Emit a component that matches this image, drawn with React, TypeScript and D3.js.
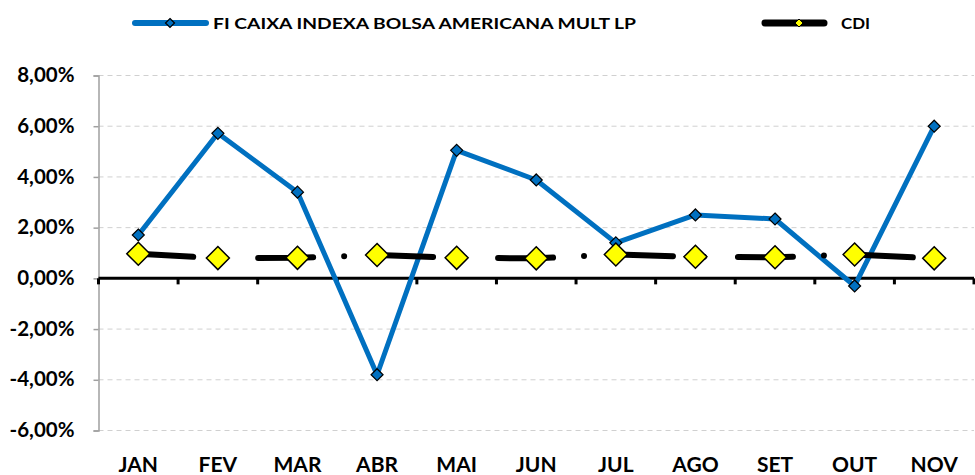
import * as d3 from 'd3'
import React, { useRef, useEffect } from 'react'

// Data
const months = ['JAN', 'FEV', 'MAR', 'ABR', 'MAI', 'JUN', 'JUL', 'AGO', 'SET', 'OUT', 'NOV']
const fundValues = [1.71, 5.72, 3.4, -3.8, 5.05, 3.88, 1.4, 2.5, 2.34, -0.3, 6.0]
const cdiValues = [0.97, 0.8, 0.81, 0.92, 0.81, 0.79, 0.94, 0.85, 0.83, 0.94, 0.79]
const yTicks = [-6, -4, -2, 0, 2, 4, 6, 8]
const fundName = 'FI CAIXA INDEXA BOLSA AMERICANA MULT LP'
const cdiName = 'CDI'

const W = 975
const H = 475
const FONT = 'Lato, Calibri, sans-serif'
const BLUE = '#0070C0'

const App = () => {
  const ref = useRef<SVGSVGElement | null>(null)

  useEffect(() => {
    document.body.style.margin = '0'
    const svg = d3.select(ref.current)
    svg.selectAll('*').remove()

    const left = 98.5
    const right = 974
    const x = d3.scaleBand().domain(months).range([left, right])
    const y = d3.scaleLinear().domain([-6, 8]).range([430.5, 75.5])
    const cx = (m: string) => (x(m) as number) + x.bandwidth() / 2

    // Gridlines
    svg.append('g')
      .selectAll('line')
      .data(yTicks.filter(d => d !== 0))
      .enter().append('line')
      .attr('x1', left).attr('x2', right)
      .attr('y1', d => y(d)).attr('y2', d => y(d))
      .attr('stroke', '#d0d0d0')
      .attr('stroke-width', 1)
      .attr('stroke-dasharray', '5,4')

    // Y axis
    const yAxis = svg.append('g')
      .attr('transform', `translate(${left},0)`)
      .call(d3.axisLeft(y).tickValues(yTicks).tickSize(5)
        .tickFormat(d => (d as number).toFixed(2).replace('.', ',') + '%'))
    yAxis.select('.domain').attr('stroke', '#a0a0a0').attr('stroke-width', 1.5)
    yAxis.selectAll('.tick line').attr('stroke', '#a0a0a0').attr('stroke-width', 1.5)
    yAxis.selectAll('.tick text')
      .attr('x', -24)
      .attr('dy', '0.3em')
      .attr('font-family', FONT)
      .attr('font-weight', 700)
      .attr('font-size', 20.5)
      .attr('fill', '#000')

    // X axis at zero with ticks between categories
    const xAxis = svg.append('g')
    xAxis.append('line')
      .attr('x1', left).attr('x2', right)
      .attr('y1', y(0)).attr('y2', y(0))
      .attr('stroke', '#000').attr('stroke-width', 3)
    xAxis.selectAll('.xt')
      .data(d3.range(months.length + 1))
      .enter().append('line')
      .attr('x1', i => left + i * x.step()).attr('x2', i => left + i * x.step())
      .attr('y1', y(0)).attr('y2', y(0) + 6)
      .attr('stroke', '#000').attr('stroke-width', 3)
    xAxis.selectAll('.xl')
      .data(months)
      .enter().append('text')
      .attr('x', d => cx(d))
      .attr('y', 471.5)
      .attr('text-anchor', 'middle')
      .attr('font-family', FONT)
      .attr('font-weight', 700)
      .attr('font-size', 21)
      .text(d => d)

    const diamond = (r: number) => `M0,${-r}L${r},0L0,${r}L${-r},0Z`

    // Fund series
    const line = d3.line<number>().x((d, i) => cx(months[i])).y(d => y(d))
    svg.append('path')
      .datum(fundValues)
      .attr('d', line)
      .attr('fill', 'none')
      .attr('stroke', BLUE)
      .attr('stroke-width', 5)
      .attr('stroke-linejoin', 'round')
    svg.selectAll('.fm')
      .data(fundValues)
      .enter().append('path')
      .attr('d', diamond(6))
      .attr('transform', (d, i) => `translate(${cx(months[i])},${y(d)})`)
      .attr('fill', BLUE)
      .attr('stroke', '#000')
      .attr('stroke-width', 1.2)

    // CDI series
    svg.append('path')
      .datum(cdiValues)
      .attr('d', line)
      .attr('fill', 'none')
      .attr('stroke', '#000')
      .attr('stroke-width', 6)
      .attr('stroke-linecap', 'round')
      .attr('stroke-dasharray', '55,31,0,34')
    svg.selectAll('.cm')
      .data(cdiValues)
      .enter().append('path')
      .attr('d', diamond(11.5))
      .attr('transform', (d, i) => `translate(${cx(months[i])},${y(d)})`)
      .attr('fill', '#ffff00')
      .attr('stroke', '#000')
      .attr('stroke-width', 1.5)

    // Legend
    const legend = svg.append('g')
    legend.append('line')
      .attr('x1', 135).attr('x2', 206).attr('y1', 23).attr('y2', 23)
      .attr('stroke', BLUE).attr('stroke-width', 6).attr('stroke-linecap', 'round')
    legend.append('path')
      .attr('d', diamond(4.5))
      .attr('transform', 'translate(170,23)')
      .attr('fill', BLUE).attr('stroke', '#000').attr('stroke-width', 1.2)
    legend.append('text')
      .attr('x', 213).attr('y', 29)
      .attr('font-family', FONT).attr('font-weight', 700).attr('font-size', 16)
      .attr('textLength', 423).attr('lengthAdjust', 'spacingAndGlyphs')
      .text(fundName)
    legend.append('line')
      .attr('x1', 765).attr('x2', 824).attr('y1', 23).attr('y2', 23)
      .attr('stroke', '#000').attr('stroke-width', 7).attr('stroke-linecap', 'round')
    legend.append('path')
      .attr('d', diamond(4))
      .attr('transform', 'translate(799,23)')
      .attr('fill', '#ffff00').attr('stroke', '#000').attr('stroke-width', 1)
    legend.append('text')
      .attr('x', 841).attr('y', 29)
      .attr('font-family', FONT).attr('font-weight', 700).attr('font-size', 16)
      .attr('textLength', 29).attr('lengthAdjust', 'spacingAndGlyphs')
      .text(cdiName)
  }, [])

  return <svg ref={ref} width={W} height={H} style={{ display: 'block', background: '#fff' }} />
}

export default App
